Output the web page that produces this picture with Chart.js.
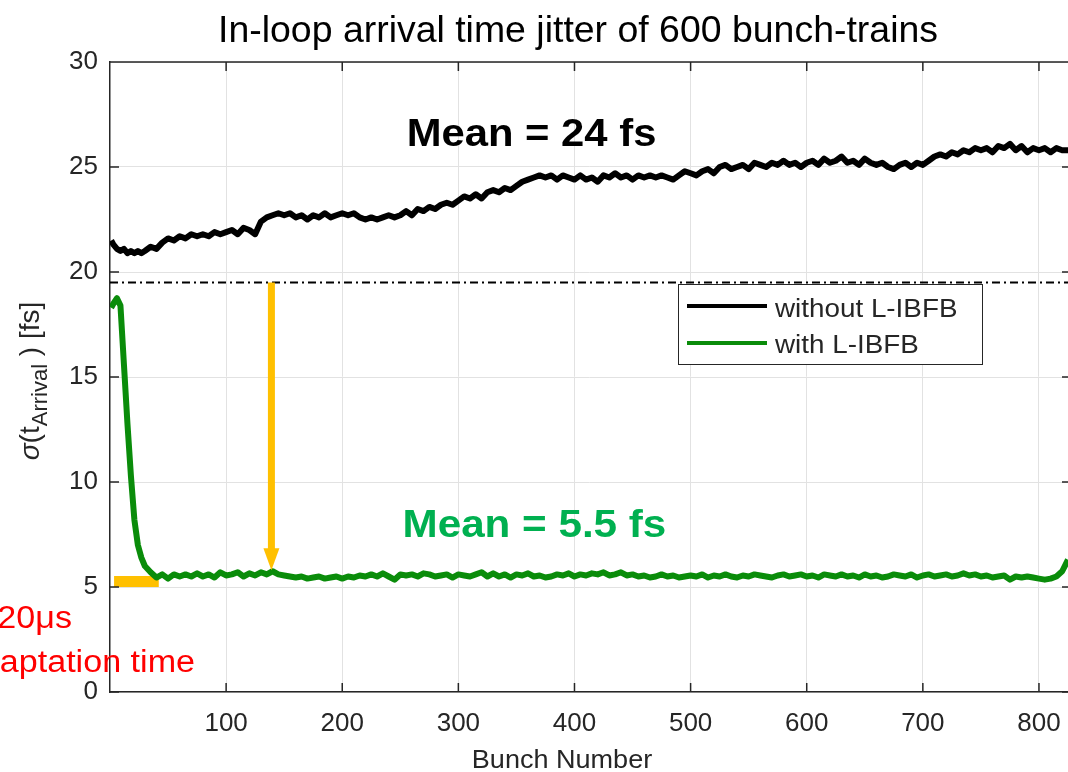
<!DOCTYPE html>
<html lang="en">
<head>
    <meta charset="UTF-8">
    <title>In-loop arrival time jitter of 600 bunch-trains</title>
    <script src="https://cdn.jsdelivr.net/npm/chart.js"></script>
    <style>
        html, body { margin: 0; padding: 0; background: #fff; }
        canvas { display: block; }
    </style>
</head>
<body>
    <canvas id="jitterChart" width="1068" height="772"></canvas>

    <script>
        // Bunch numbers (finer at the start where the feedback converges)
        const bunches = [
            1, 3, 6, 9, 12, 15, 18, 21, 24, 27,
            30, 35, 40, 45, 50, 55, 60, 65, 70, 75,
            80, 85, 90, 95, 100, 105, 110, 115, 120, 125,
            130, 135, 140, 145, 150, 155, 160, 165, 170, 175,
            180, 185, 190, 195, 200, 205, 210, 215, 220, 225,
            230, 235, 240, 245, 250, 255, 260, 265, 270, 275,
            280, 285, 290, 295, 300, 305, 310, 315, 320, 325,
            330, 335, 340, 345, 350, 355, 360, 365, 370, 375,
            380, 385, 390, 395, 400, 405, 410, 415, 420, 425,
            430, 435, 440, 445, 450, 455, 460, 465, 470, 475,
            480, 485, 490, 495, 500, 505, 510, 515, 520, 525,
            530, 535, 540, 545, 550, 555, 560, 565, 570, 575,
            580, 585, 590, 595, 600, 605, 610, 615, 620, 625,
            630, 635, 640, 645, 650, 655, 660, 665, 670, 675,
            680, 685, 690, 695, 700, 705, 710, 715, 720, 725,
            730, 735, 740, 745, 750, 755, 760, 765, 770, 775,
            780, 785, 790, 795, 800, 805, 810, 815, 820, 825
        ];

        // sigma(t_Arrival) [fs] without feedback
        const withoutFb = [
            21.5, 21.3, 21.1, 21.0, 21.1, 20.9, 21.0, 20.9, 21.0, 20.9,
            21.0, 21.2, 21.1, 21.4, 21.6, 21.5, 21.7, 21.6, 21.8, 21.7,
            21.8, 21.7, 21.9, 21.8, 21.9, 22.0, 21.8, 22.1, 22.0, 21.8,
            22.4, 22.6, 22.7, 22.8, 22.7, 22.8, 22.6, 22.7, 22.5, 22.7,
            22.6, 22.8, 22.6, 22.7, 22.8, 22.7, 22.8, 22.6, 22.5, 22.6,
            22.5, 22.6, 22.7, 22.6, 22.7, 22.9, 22.7, 23.0, 22.9, 23.1,
            23.0, 23.2, 23.3, 23.2, 23.4, 23.6, 23.5, 23.7, 23.5, 23.8,
            23.9, 23.8, 24.0, 23.9, 24.1, 24.3, 24.4, 24.5, 24.6, 24.5,
            24.6, 24.4, 24.6, 24.5, 24.4, 24.6, 24.4, 24.5, 24.3, 24.6,
            24.5, 24.7, 24.5, 24.6, 24.4, 24.6, 24.5, 24.6, 24.5, 24.6,
            24.5, 24.4, 24.6, 24.8, 24.7, 24.6, 24.8, 24.9, 24.7, 25.0,
            25.1, 24.9, 25.0, 25.1, 24.9, 25.2, 25.1, 25.0, 25.2, 25.1,
            25.3, 25.1, 25.2, 25.0, 25.2, 25.3, 25.1, 25.4, 25.2, 25.3,
            25.5, 25.2, 25.3, 25.1, 25.4, 25.2, 25.1, 25.2, 25.0, 24.9,
            25.1, 25.2, 25.0, 25.2, 25.1, 25.3, 25.5, 25.6, 25.5, 25.7,
            25.6, 25.8, 25.7, 25.9, 25.8, 25.9, 25.7, 26.0, 25.9, 26.1,
            25.8, 26.0, 25.7, 25.9, 25.8, 25.9, 25.7, 25.9, 25.8, 25.8
        ];

        // sigma(t_Arrival) [fs] with L-IBFB
        const withFb = [
            18.3, 18.5, 18.75, 18.4, 15.6, 12.8, 10.3, 8.2, 7.0, 6.4,
            6.0, 5.7, 5.45, 5.6, 5.4, 5.6, 5.5, 5.6, 5.5, 5.65,
            5.5, 5.6, 5.45, 5.7, 5.55, 5.6, 5.7, 5.5, 5.65, 5.55,
            5.7, 5.6, 5.75, 5.6, 5.55, 5.5, 5.45, 5.5, 5.4, 5.45,
            5.5, 5.4, 5.45, 5.5, 5.4, 5.5, 5.45, 5.55, 5.5, 5.6,
            5.5, 5.65, 5.5, 5.35, 5.6, 5.55, 5.6, 5.5, 5.65, 5.6,
            5.5, 5.55, 5.6, 5.45, 5.6, 5.55, 5.5, 5.6, 5.7, 5.5,
            5.65, 5.5, 5.6, 5.45, 5.6, 5.55, 5.65, 5.5, 5.55, 5.45,
            5.5, 5.6, 5.55, 5.65, 5.5, 5.6, 5.55, 5.65, 5.6, 5.7,
            5.55, 5.6, 5.7, 5.55, 5.6, 5.5, 5.55, 5.45, 5.5, 5.6,
            5.5, 5.55, 5.45, 5.5, 5.55, 5.5, 5.6, 5.45, 5.55, 5.5,
            5.6, 5.5, 5.45, 5.55, 5.5, 5.6, 5.55, 5.5, 5.45, 5.55,
            5.6, 5.5, 5.55, 5.6, 5.5, 5.55, 5.45, 5.6, 5.55, 5.5,
            5.6, 5.5, 5.55, 5.45, 5.6, 5.5, 5.55, 5.45, 5.5, 5.6,
            5.55, 5.5, 5.6, 5.45, 5.55, 5.6, 5.5, 5.55, 5.6, 5.5,
            5.55, 5.65, 5.55, 5.6, 5.5, 5.55, 5.45, 5.5, 5.55, 5.35,
            5.5, 5.45, 5.5, 5.45, 5.4, 5.35, 5.4, 5.5, 5.75, 6.3
        ];

        const xTicks = [100, 200, 300, 400, 500, 600, 700, 800];
        const yTicks = [0, 5, 10, 15, 20, 25, 30];

        // annotation values (data units)
        const separatorLevel = 19.5;
        const arrowBunch = 139;
        const arrowTip = 5.8;
        const adaptStart = 3.5;
        const adaptEnd = 42;
        const adaptLevel = 5.26;

        const FONT = '"Liberation Sans", Arial, Helvetica, sans-serif';
        const GREEN = '#0a8c0a';
        const ORANGE = '#ffc000';

        function drawText(ctx, text, x, y, font, color, align, sx) {
            ctx.save();
            ctx.font = font;
            ctx.fillStyle = color;
            ctx.textAlign = align || 'left';
            ctx.textBaseline = 'alphabetic';
            ctx.translate(x, y);
            ctx.scale(sx || 1, 1);
            ctx.fillText(text, 0, 0);
            ctx.restore();
        }

        const decorations = {
            id: 'decorations',
            afterDatasetsDraw(chart) {
                const ctx = chart.ctx;
                const xs = chart.scales.x, ys = chart.scales.y;
                const area = chart.chartArea;

                // orange arrow
                const ax = xs.getPixelForValue(arrowBunch);
                const ay1 = ys.getPixelForValue(separatorLevel);
                const ay2 = ys.getPixelForValue(arrowTip);
                ctx.save();
                ctx.fillStyle = ORANGE;
                ctx.fillRect(ax - 3.5, ay1, 7, ay2 - ay1 - 20);
                ctx.beginPath();
                ctx.moveTo(ax - 8, ay2 - 22);
                ctx.lineTo(ax + 8, ay2 - 22);
                ctx.lineTo(ax, ay2);
                ctx.closePath();
                ctx.fill();
                ctx.restore();

                // box frame and inward ticks
                ctx.save();
                ctx.strokeStyle = '#262626';
                ctx.lineWidth = 1.5;
                ctx.beginPath();
                ctx.moveTo(area.left, area.top);
                ctx.lineTo(area.right, area.top);
                xTicks.forEach(v => {
                    const px = xs.getPixelForValue(v);
                    ctx.moveTo(px, area.top);
                    ctx.lineTo(px, area.top + 9);
                    ctx.moveTo(px, area.bottom);
                    ctx.lineTo(px, area.bottom - 9);
                });
                yTicks.forEach(v => {
                    const py = ys.getPixelForValue(v);
                    ctx.moveTo(area.left, py);
                    ctx.lineTo(area.left + 9, py);
                    ctx.moveTo(area.right, py);
                    ctx.lineTo(area.right - 6, py);
                });
                ctx.stroke();
                ctx.restore();
            },
            afterDraw(chart) {
                const ctx = chart.ctx;
                const xs = chart.scales.x, ys = chart.scales.y;

                // title
                drawText(ctx, 'In-loop arrival time jitter of 600 bunch-trains', 578, 42,
                    '36px ' + FONT, '#000', 'center', 1.04);

                // x axis label
                drawText(ctx, 'Bunch Number', 562, 768, '26px ' + FONT, '#262626', 'center', 1.04);

                // y axis label: sigma(t_Arrival) [fs]
                ctx.save();
                ctx.translate(32, 381);
                ctx.rotate(-Math.PI / 2);
                ctx.fillStyle = '#262626';
                ctx.textBaseline = 'alphabetic';
                const parts = [
                    { t: '\u03c3', f: 'italic 28px ' + FONT, dy: 0 },
                    { t: '(t', f: '28px ' + FONT, dy: 0 },
                    { t: 'Arrival', f: '22px ' + FONT, dy: 8 },
                    { t: ' ) [fs]', f: '28px ' + FONT, dy: 0 }
                ];
                let total = 0;
                parts.forEach(p => { ctx.font = p.f; p.w = ctx.measureText(p.t).width; total += p.w; });
                let cx = -total / 2;
                parts.forEach(p => {
                    ctx.font = p.f;
                    ctx.fillText(p.t, cx, 7 + p.dy);
                    cx += p.w;
                });
                ctx.restore();

                // mean annotations
                drawText(ctx, 'Mean = 24 fs', xs.getPixelForValue(363), ys.getPixelForValue(26.0),
                    'bold 38px ' + FONT, '#000', 'center', 1.1);
                drawText(ctx, 'Mean = 5.5 fs', xs.getPixelForValue(365.5), ys.getPixelForValue(7.38),
                    'bold 38px ' + FONT, '#00b050', 'center', 1.11);

                // adaptation time note (runs off the left edge as in the figure)
                drawText(ctx, '20\u03bcs', 72, 628, '31px ' + FONT, '#ff0000', 'right', 1.1);
                drawText(ctx, 'adaptation time', 195, 672, '31px ' + FONT, '#ff0000', 'right', 1.1);

                // legend
                const lx = 678, ly = 284, lw = 304, lh = 80;
                ctx.save();
                ctx.fillStyle = '#fff';
                ctx.fillRect(lx, ly, lw, lh);
                ctx.strokeStyle = '#262626';
                ctx.lineWidth = 1;
                ctx.strokeRect(lx + 0.5, ly + 0.5, lw, lh);
                ctx.lineWidth = 4;
                ctx.strokeStyle = '#000';
                ctx.beginPath(); ctx.moveTo(687, 306); ctx.lineTo(767, 306); ctx.stroke();
                ctx.strokeStyle = GREEN;
                ctx.beginPath(); ctx.moveTo(687, 343); ctx.lineTo(767, 343); ctx.stroke();
                ctx.restore();
                drawText(ctx, 'without L-IBFB', 775, 317, '26px ' + FONT, '#262626', 'left', 1.07);
                drawText(ctx, 'with L-IBFB', 775, 353, '26px ' + FONT, '#262626', 'left', 1.07);
            }
        };

        function initializeChart() {
            const ctx = document.getElementById('jitterChart').getContext('2d');

            new Chart(ctx, {
                type: 'line',
                data: {
                    datasets: [
                        {
                            label: 'without L-IBFB',
                            data: bunches.map((b, i) => ({ x: b, y: withoutFb[i] })),
                            borderColor: '#000',
                            borderWidth: 6,
                            borderJoinStyle: 'round'
                        },
                        {
                            label: 'with L-IBFB',
                            data: bunches.map((b, i) => ({ x: b, y: withFb[i] })),
                            borderColor: GREEN,
                            borderWidth: 6,
                            borderJoinStyle: 'round'
                        },
                        {
                            label: 'separator',
                            data: [{ x: 0, y: separatorLevel }, { x: 825, y: separatorLevel }],
                            borderColor: '#000',
                            borderWidth: 2,
                            borderDash: [8, 4, 2, 4]
                        },
                        {
                            label: 'adaptation',
                            data: [{ x: adaptStart, y: adaptLevel }, { x: adaptEnd, y: adaptLevel }],
                            borderColor: ORANGE,
                            borderWidth: 11,
                            borderCapStyle: 'butt'
                        }
                    ]
                },
                options: {
                    responsive: false,
                    animation: false,
                    layout: { padding: { top: 62, left: 0, right: 0, bottom: 0 } },
                    elements: { point: { radius: 0 }, line: { tension: 0 } },
                    plugins: {
                        legend: { display: false },
                        title: { display: false },
                        tooltip: { enabled: false }
                    },
                    scales: {
                        x: {
                            type: 'linear',
                            min: 0,
                            max: 825,
                            afterFit: s => { s.height = 80; s.paddingLeft = 0; s.paddingRight = 0; },
                            afterBuildTicks: s => { s.ticks = xTicks.map(v => ({ value: v })); },
                            grid: { color: '#e2e2e2', drawTicks: false },
                            border: { color: '#262626', width: 1.5 },
                            ticks: { color: '#262626', font: { size: 26, family: FONT }, padding: 16, maxRotation: 0 }
                        },
                        y: {
                            min: 0,
                            max: 30,
                            afterFit: s => { s.width = 110; },
                            afterBuildTicks: s => { s.ticks = yTicks.map(v => ({ value: v })); },
                            grid: { color: '#e2e2e2', drawTicks: false },
                            border: { color: '#262626', width: 1.5 },
                            ticks: { color: '#262626', font: { size: 26, family: FONT }, padding: 12 }
                        }
                    }
                },
                plugins: [decorations]
            });
        }

        document.addEventListener('DOMContentLoaded', initializeChart);
    </script>
</body>
</html>
